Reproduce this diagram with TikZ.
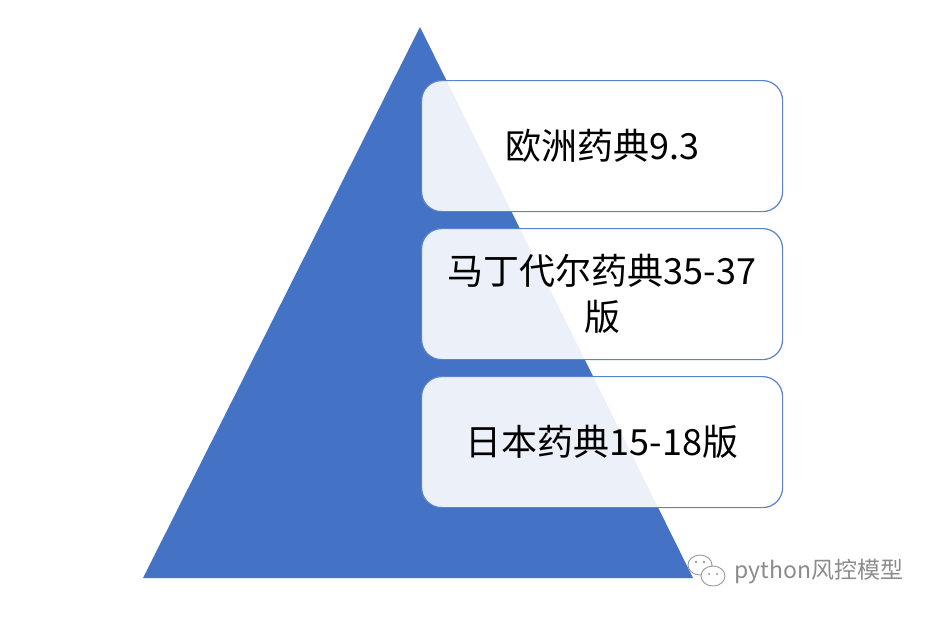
\documentclass[tikz,border=0pt]{standalone}
\usepackage{fontspec}
\newfontfamily\cjk{Noto Sans CJK SC}
\definecolor{triblue}{HTML}{4472C4}
\definecolor{boxline}{HTML}{5B82CC}
\begin{document}
\begin{tikzpicture}[x=1pt,y=-1pt,
  tier/.style={draw=boxline,line width=1.2pt,fill=white,fill opacity=0.9,text opacity=1,
    rounded corners=20pt,minimum width=361pt,minimum height=131pt,inner sep=0pt,
    font=\cjk\fontsize{36}{46}\selectfont,align=center,anchor=north west},
  wmark/.style={font=\cjk\fontsize{23}{26}\selectfont,text=black!45},
  bubble/.style={draw=black!40,line width=0.9pt,fill=white}]
\useasboundingbox (0,0) rectangle (932,616);
\fill[white] (0,0) rectangle (932,616);
\coordinate (apex) at (420,27);
\coordinate (bl) at (143,578);
\coordinate (br) at (693,578);
\fill[triblue] (apex) -- (br) -- (bl) -- cycle;
\node[tier] (t1) at (421,80) {欧洲药典9.3};
\node[tier] (t2) at (421,228) {马丁代尔药典35-37\\版};
\node[tier] (t3) at (421,376) {日本药典15-18版};
% WeChat-like icon
\draw[bubble] (700,565) ellipse (12pt and 10pt);
\draw[bubble] (713,576) ellipse (12pt and 10pt);
\fill[black!40] (696,562) circle (1.4pt) (704,562) circle (1.4pt)
  (709,574) circle (1.2pt) (717,574) circle (1.2pt);
\node[wmark,anchor=west] (wm) at (731,572) {python风控模型};
\end{tikzpicture}
\end{document}
